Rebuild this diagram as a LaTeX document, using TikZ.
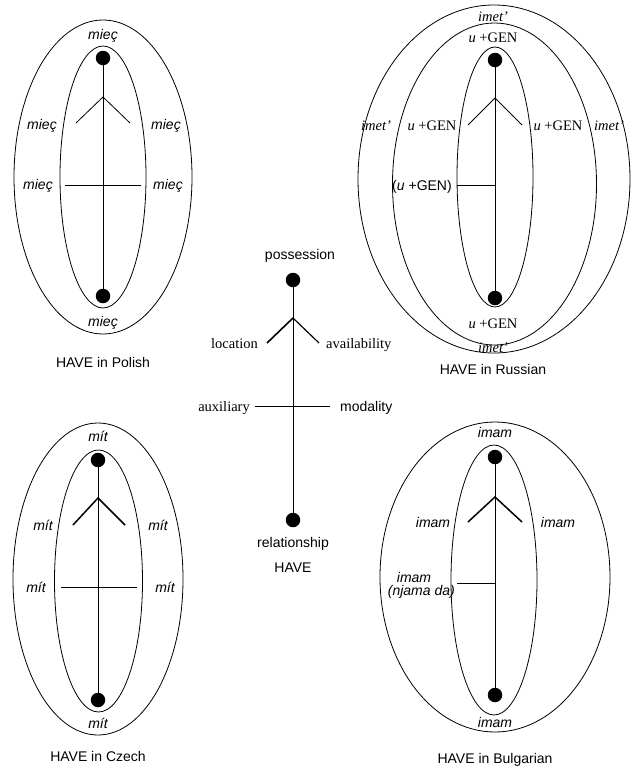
\documentclass[tikz,border=0pt]{standalone}
\usepackage{fontspec}
\setmainfont{Liberation Serif}
\setsansfont{Liberation Sans}
\newfontfamily\arialf{Liberation Sans}
\newfontfamily\tnrf{Liberation Serif}
\begin{document}
\begin{tikzpicture}[x=1pt,y=-1pt,
  sl/.style={font=\arialf\fontsize{14}{16}\selectfont, inner sep=0pt, anchor=base},
  tl/.style={font=\tnrf\fontsize{14.5}{16}\selectfont, inner sep=0pt, anchor=base},
  oval/.style={draw, line width=0.8pt},
  stem/.style={line width=0.8pt},
  arm/.style={line width=0.8pt},
  thickarm/.style={line width=1.5pt},
  dotnode/.style={circle, fill=black, minimum size=14.5pt, inner sep=0pt}]
\useasboundingbox (0,0) rectangle (630,766);

% ---------------- Polish ----------------
\coordinate (pC) at (103,177);
\draw[oval] (pC) ellipse [x radius=89, y radius=157];
\draw[oval] (pC) ellipse [x radius=43, y radius=131];
\node[dotnode] (pT) at (103,58) {};
\node[dotnode] (pB) at (103,296) {};
\coordinate (pF) at (103,97);
\coordinate (pL) at (76,123);
\coordinate (pR) at (130,123);
\coordinate (pHL) at (65,185);
\coordinate (pHR) at (141,185);
\draw[stem] (pT) -- (pB);
\draw[arm] (pL) -- (pF) -- (pR);
\draw[stem] (pHL) -- (pHR);
\node[sl] (p1) at (103,39) {\itshape mieç};
\node[sl] (p2) at (42,129) {\itshape mieç};
\node[sl] (p3) at (166,129) {\itshape mieç};
\node[sl] (p4) at (38,189) {\itshape mieç};
\node[sl] (p5) at (168,189) {\itshape mieç};
\node[sl] (p6) at (103,326) {\itshape mieç};
\node[sl] (pTitle) at (103,367) {HAVE in Polish};

% ---------------- Russian ----------------
\coordinate (rC) at (494,179);
\draw[oval] (rC) ellipse [x radius=136, y radius=174];
\draw[oval] (494.5,184) ellipse [x radius=102, y radius=161];
\draw[oval] (495,177) ellipse [x radius=38, y radius=130];
\node[dotnode] (rT) at (495,60) {};
\node[dotnode] (rB) at (495,298) {};
\coordinate (rF) at (495,98);
\coordinate (rL) at (468,125);
\coordinate (rR) at (522,125);
\coordinate (rHL) at (457,185);
\coordinate (rHR) at (495,185);
\draw[stem] (rT) -- (rB);
\draw[arm] (rL) -- (rF) -- (rR);
\draw[stem] (rHL) -- (rHR);
\node[tl] (r1) at (493,21) {\itshape imet’};
\node[tl] (r2) at (493,42) {\textit{u} +GEN};
\node[tl] (r3) at (376,130) {\itshape imet’};
\node[tl] (r4) at (432,130) {\textit{u} +GEN};
\node[tl] (r5) at (558,130) {\textit{u} +GEN};
\node[tl] (r6) at (609,130) {\itshape imet’};
\node[sl] (r7) at (422,190) {(\textit{u} +GEN)};
\node[tl] (r8) at (493,328) {\textit{u} +GEN};
\node[tl] (r9) at (493,352) {\itshape imet’};
\node[sl] (rTitle) at (493,374) {HAVE in Russian};

% ---------------- Centre ----------------
\node[dotnode] (cT) at (293,280) {};
\node[dotnode] (cB) at (293,520) {};
\coordinate (cF) at (293,318);
\coordinate (cL) at (267,343);
\coordinate (cR) at (319,343);
\coordinate (cHL) at (255,406);
\coordinate (cHR) at (330,406);
\draw[stem] (cT) -- (cB);
\draw[line width=1.6pt] (cL) -- (cF);
\draw[line width=1.2pt] (cF) -- (cR);
\draw[stem] (cHL) -- (cHR);
\node[sl] (cPos) at (300,259) {possession};
\node[tl, anchor=base east] (cLoc) at (258,348) {location};
\node[tl, anchor=base west] (cAv) at (326,348) {availability};
\node[tl, anchor=base east] (cAux) at (250,411) {auxiliary};
\node[sl, anchor=base west] (cMod) at (340,411) {modality};
\node[sl] (cRel) at (293,547) {relationship};
\node[sl] (cHave) at (293,572) {HAVE};

% ---------------- Czech ----------------
\coordinate (zC) at (98,579);
\draw[oval] (zC) ellipse [x radius=85, y radius=156];
\draw[oval] (98.5,581) ellipse [x radius=44, y radius=131];
\node[dotnode] (zT) at (98,460) {};
\node[dotnode] (zB) at (98,700) {};
\coordinate (zF) at (98,498);
\coordinate (zL) at (73,525);
\coordinate (zR) at (125,525);
\coordinate (zHL) at (61,587);
\coordinate (zHR) at (137,587);
\draw[stem] (zT) -- (zB);
\draw[thickarm] (zL) -- (zF) -- (zR);
\draw[stem] (zHL) -- (zHR);
\node[sl] (z1) at (98,441) {\itshape mít};
\node[sl] (z2) at (43,530) {\itshape mít};
\node[sl] (z3) at (158,530) {\itshape mít};
\node[sl] (z4) at (36,592) {\itshape mít};
\node[sl] (z5) at (165,592) {\itshape mít};
\node[sl] (z6) at (98,728) {\itshape mít};
\node[sl] (zTitle) at (98,761) {HAVE in Czech};

% ---------------- Bulgarian ----------------
\coordinate (bC) at (495,577);
\draw[oval] (bC) ellipse [x radius=115, y radius=155];
\draw[oval] (494,580) ellipse [x radius=43, y radius=135];
\node[dotnode] (bT) at (495,457) {};
\node[dotnode] (bB) at (495,695) {};
\coordinate (bF) at (495,497);
\coordinate (bL) at (468,522);
\coordinate (bR) at (522,522);
\coordinate (bHL) at (457,583);
\coordinate (bHR) at (495,583);
\draw[stem] (bT) -- (bB);
\draw[thickarm] (bL) -- (bF) -- (bR);
\draw[stem] (bHL) -- (bHR);
\node[sl] (b1) at (495,437) {\itshape imam};
\node[sl] (b2) at (433,527) {\itshape imam};
\node[sl] (b3) at (558,527) {\itshape imam};
\node[sl] (b4) at (414,582) {\itshape imam};
\node[sl, anchor=base east] (b5) at (455,595) {\itshape (njama da)};
\node[sl] (b6) at (495,727) {\itshape imam};
\node[sl] (bTitle) at (495,763) {HAVE in Bulgarian};
\end{tikzpicture}
\end{document}
